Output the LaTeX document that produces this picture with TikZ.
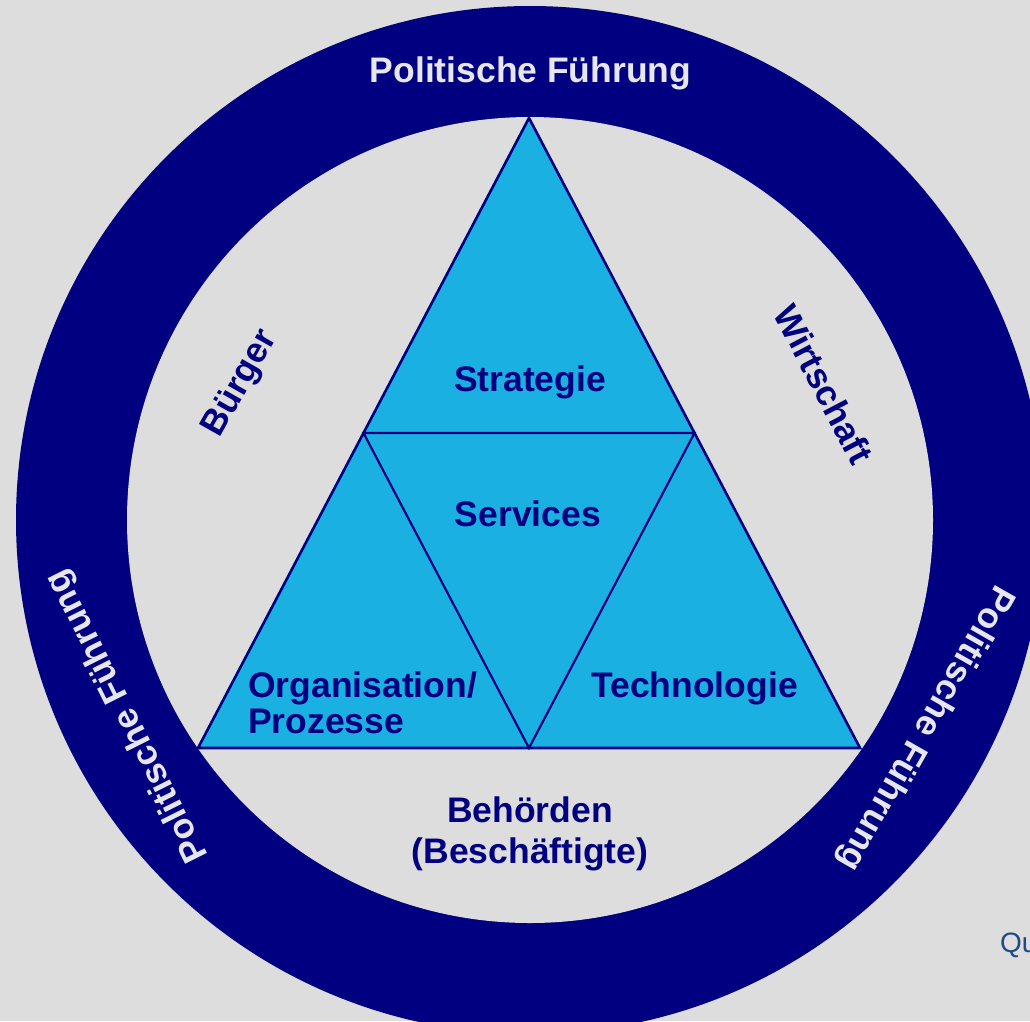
\documentclass[tikz,border=0pt]{standalone}
\usepackage{fontspec}
\setmainfont{Liberation Sans}
\usetikzlibrary{calc}
\definecolor{navy}{HTML}{000080}
\definecolor{trifill}{HTML}{1BB0E2}
\definecolor{bgcol}{HTML}{DDDDDD}
\definecolor{ringtxt}{HTML}{E6E6EE}
\definecolor{srccol}{HTML}{1F4A86}
\begin{document}
\begin{tikzpicture}[x=1pt,y=-1pt,
  lbl/.style={font=\fontsize{35.5}{36}\selectfont\bfseries, text=navy, inner sep=0pt},
  ringlbl/.style={font=\fontsize{35.5}{36}\selectfont\bfseries, text=ringtxt, inner sep=0pt},
  outeredge/.style={draw=navy, line width=2.6pt, line join=miter},
  inneredge/.style={draw=navy, line width=2.2pt, line join=miter}]
\useasboundingbox (0,0) rectangle (1030,1021);
\clip (0,0) rectangle (1030,1021);
\fill[bgcol] (0,0) rectangle (1030,1021);
% ring
\coordinate (O) at (530,520);
\fill[navy] (O) circle[radius=514];
\fill[bgcol] (O) circle[radius=403];
% triangle
\coordinate (A) at (529,118);
\coordinate (L) at (198,748);
\coordinate (R) at (860,748);
\coordinate (ML) at ($(A)!0.5!(L)$);
\coordinate (MR) at ($(A)!0.5!(R)$);
\coordinate (M) at ($(L)!0.5!(R)$);
\filldraw[fill=trifill, outeredge] (A) -- (L) -- (R) -- cycle;
\draw[inneredge] (ML) -- (MR) -- (M) -- cycle;
% triangle labels
\node[lbl, anchor=base] (strat) at (530,391) {Strategie};
\node[lbl, anchor=base] (serv) at (528,526) {Services};
\node[lbl, anchor=base west, align=left] (org) at (248,733) {Organisation/\\Prozesse};
\node[lbl, anchor=base] (tech) at (694.5,697) {Technologie};
% inner ring labels
\node[lbl, anchor=base, align=center, font=\fontsize{35.5}{41}\selectfont\bfseries] (beh) at (530,863) {Behörden\\(Beschäftigte)};
\node[lbl, rotate=60.5] (buerger) at (241,384) {Bürger};
\node[lbl, rotate=-62.4] (wirt) at (824,384) {Wirtschaft};
% ring labels
\node[ringlbl, anchor=base] (pftop) at (530.5,82) {Politische Führung};
\node[ringlbl, rotate=116.6] (pfleft) at (128,716) {Politische Führung};
\node[ringlbl, rotate=-119.7] (pfright) at (925,728) {Politische Führung};
% source (cut off by the picture's edge)
\node[anchor=base west, inner sep=0pt, font=\fontsize{28}{30}\selectfont, text=srccol] (src) at (1000,952) {Qu};
\end{tikzpicture}
\end{document}
